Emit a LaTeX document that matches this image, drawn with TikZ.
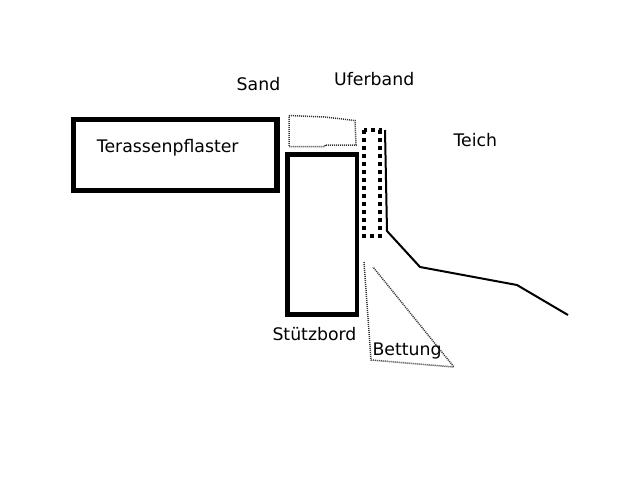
\documentclass[tikz,border=0pt]{standalone}
\usepackage{fontspec}
\setmainfont{DejaVu Sans}
\begin{document}
\begin{tikzpicture}[x=1pt,y=-1pt,
  lbl/.style={anchor=base west,inner sep=0pt,font=\fontsize{17.3pt}{21pt}\selectfont},
  thickbox/.style={draw=black,line width=5.5pt},
  midbox/.style={draw=black,line width=4.5pt},
  dotbox/.style={draw=black!80,line width=1.5pt,dash pattern=on 1pt off 1pt},
  bigdots/.style={draw=black,line width=4pt,dash pattern=on 4pt off 4pt},
  shore/.style={draw=black,line width=2pt}]
\useasboundingbox (0,0) rectangle (640,480);
\fill[white] (0,0) rectangle (640,480);
% Terassenpflaster
\draw[thickbox] (73.5,119.5) rectangle (277,190.5);
% Stuetzbord
\draw[midbox] (287.5,154.5) rectangle (357,314.5);
% Sand
\draw[dotbox] (289,115.5) -- (325,117) -- (355,120.5) -- (356,145) -- (325,145) -- (325,146.5) -- (289,146.5) -- cycle;
% Uferband
\draw[bigdots] (364,130) rectangle (379.7,236);
% shore line
\draw[shore] (385,130) -- (387,231) -- (420,267) -- (517,285) -- (568,315);
% Bettung
\draw[dotbox] (364,262) -- (371,360) -- (454,367) -- (373,267);
% labels
\node[lbl] (sand) at (236.5,90.7) {Sand};
\node[lbl] (ufer) at (334,85) {Uferband};
\node[lbl] (teich) at (453.3,146.7) {Teich};
\node[lbl] (terr) at (96.7,152.7) {Terassenpflaster};
\node[lbl] (stuetz) at (272.3,340.7) {Stützbord};
\node[lbl] (bett) at (372.3,355) {Bettung};
\end{tikzpicture}
\end{document}
